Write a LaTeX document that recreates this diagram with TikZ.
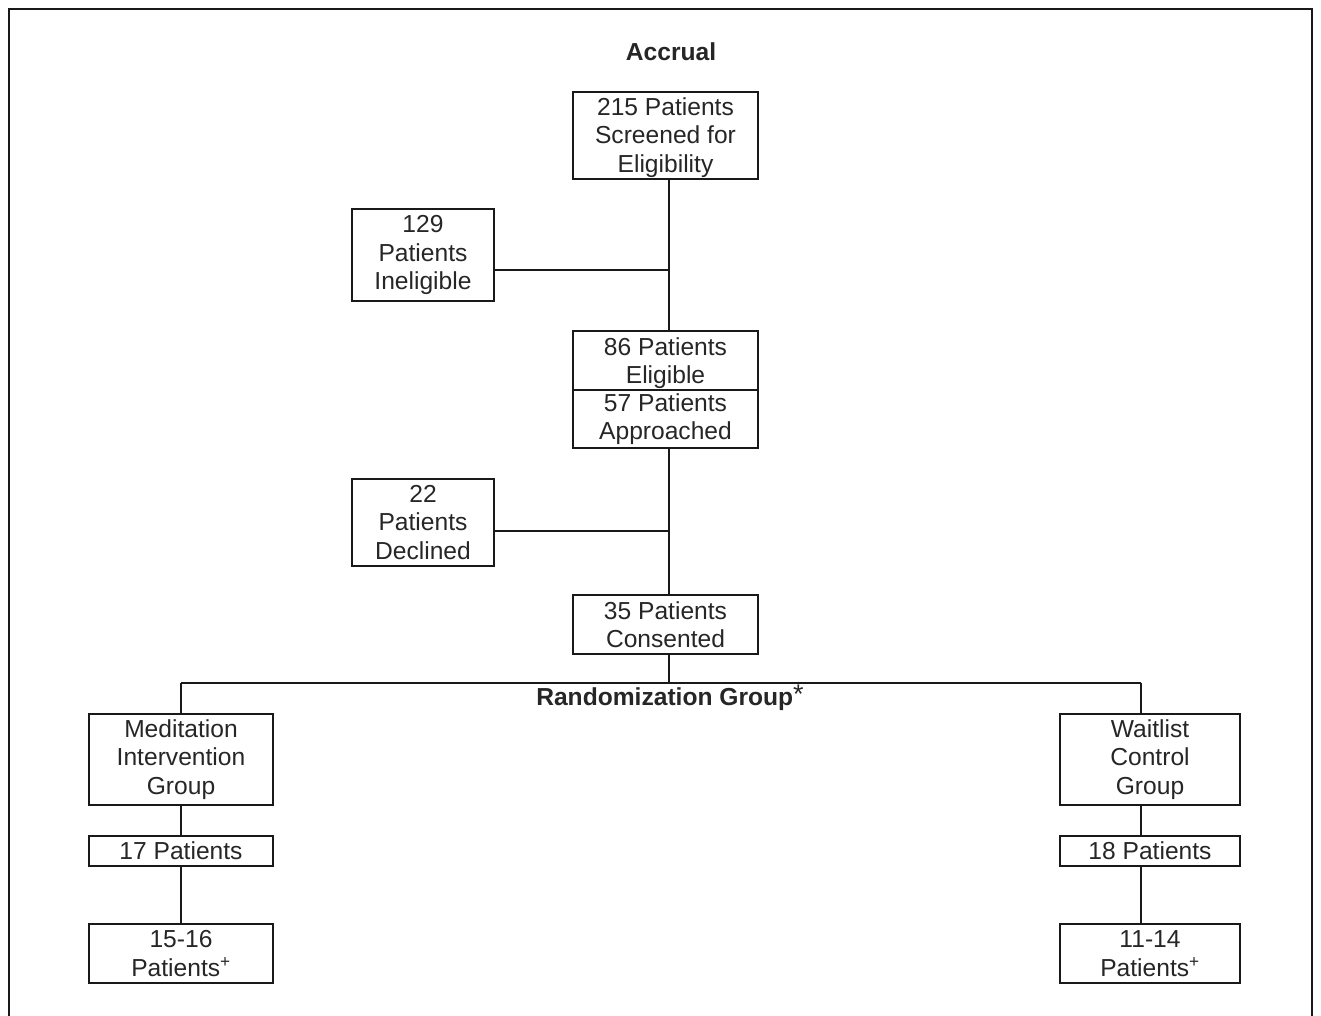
\documentclass[tikz,border=0pt]{standalone}
\usepackage{fontspec}
\setmainfont{Liberation Sans}
\begin{document}
\begin{tikzpicture}[x=1pt,y=-1pt,
  box/.style={draw=black!90,line width=2pt,rectangle,inner sep=0pt,align=center,text=black!85,font=\fontsize{24.6}{28.6}\selectfont},
  conn/.style={draw=black!90,line width=2pt},
  ttl/.style={font=\fontsize{24.6}{28}\selectfont\bfseries,text=black!85,inner sep=0pt}]
\useasboundingbox (0,0) rectangle (1321,1015);
\draw[line width=2pt,black!90] (9,1016) -- (9,9) -- (1312,9) -- (1312,1016);
\node[ttl] (accrual) at (671,52) {Accrual};
\node[box,minimum width=185pt,minimum height=87pt] (screen) at (665.5,135.5) {\rule{0pt}{22pt}215 Patients\\Screened for\\Eligibility};
\node[box,minimum width=142pt,minimum height=92pt] (inel) at (423,255) {129\\Patients\\Ineligible};
\node[box,minimum width=185pt,minimum height=59pt] (elig) at (665.5,360.5) {\rule{0pt}{23pt}86 Patients\\Eligible};
\node[box,minimum width=185pt,minimum height=58pt] (appr) at (665.5,419) {57 Patients\\Approached};
\node[box,minimum width=142pt,minimum height=87pt] (decl) at (423,522.5) {22\\Patients\\Declined};
\node[box,minimum width=185pt,minimum height=59pt] (cons) at (665.5,624.5) {35 Patients\\Consented};
\node[ttl] (rand) at (670,698) {Randomization Group\raisebox{1.5pt}{\normalfont\fontsize{27}{27}\selectfont *}};
\node[box,minimum width=184pt,minimum height=91pt] (medi) at (181,759.5) {Meditation\\Intervention\\Group};
\node[box,minimum width=180pt,minimum height=91pt] (wait) at (1150,759.5) {Waitlist\\Control\\Group};
\node[box,minimum width=184pt,minimum height=30pt] (m17) at (181,851) {17 Patients};
\node[box,minimum width=180pt,minimum height=30pt] (w18) at (1150,851) {18 Patients};
\node[box,minimum width=184pt,minimum height=59pt] (m15) at (181,953.5) {15-16\\Patients\textsuperscript{+}};
\node[box,minimum width=180pt,minimum height=59pt] (w11) at (1150,953.5) {11-14\\Patients\textsuperscript{+}};
\coordinate (j1) at (669,270);
\coordinate (j2) at (669,531);
\coordinate (j3) at (669,683);
\coordinate (jl) at (181,683);
\coordinate (jr) at (1141,683);
\draw[conn] (screen.south -| j1) -- (elig.north -| j1);
\draw[conn] (inel.east |- j1) -- (j1);
\draw[conn] (appr.south -| j2) -- (cons.north -| j2);
\draw[conn] (decl.east |- j2) -- (j2);
\draw[conn] (cons.south -| j3) -- (j3);
\draw[conn] (jl) -- (jr);
\draw[conn] (jl) -- (medi.north -| jl);
\draw[conn] (jr) -- (wait.north -| jr);
\draw[conn] (medi.south -| jl) -- (m17.north -| jl);
\draw[conn] (m17.south -| jl) -- (m15.north -| jl);
\draw[conn] (wait.south -| jr) -- (w18.north -| jr);
\draw[conn] (w18.south -| jr) -- (w11.north -| jr);
\end{tikzpicture}
\end{document}
